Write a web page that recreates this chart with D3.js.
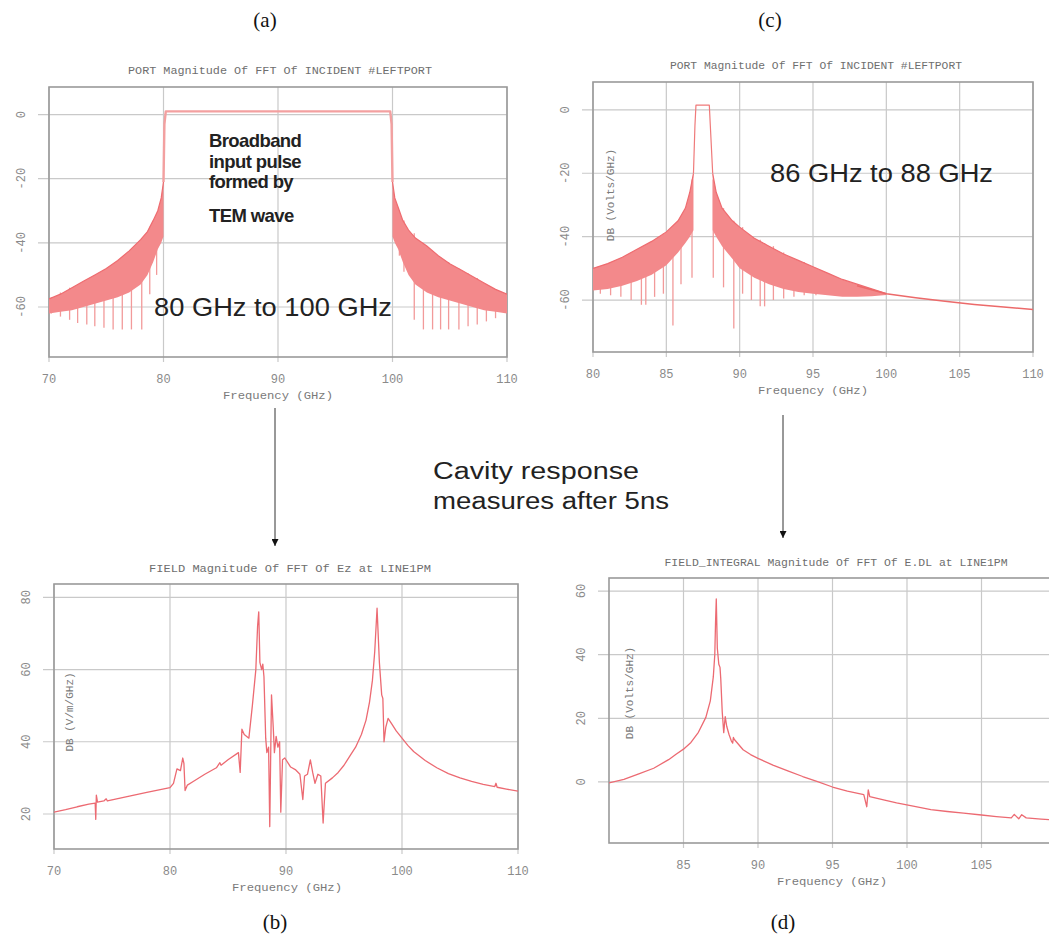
<!DOCTYPE html>
<html>
<head>
<meta charset="utf-8">
<script src="https://cdn.jsdelivr.net/npm/d3@7"></script>
<style>
body { margin: 0; background: #fff; }
</style>
</head>
<body>
<div id="chart"></div>
<script>
// ---- data ----
// panel (a): dense sidebands [GHz, top dB, bottom dB], passband edge, null spikes [GHz, top, depth]
var aBandLeft = [[70,-57.5,-62],[71,-56,-61.5],[72,-54,-61],[73,-52,-60],[74,-50,-59],[75,-48,-58],
    [76,-45.5,-57],[77,-42.5,-55.5],[78,-39,-53],[78.6,-36.5,-50],[79.1,-33,-46],[79.5,-30,-42],
    [79.8,-26,-40],[80,-21,-38]];
var aBandRight = [[100,-21,-38],[100.2,-26,-40],[100.5,-29,-42],[100.9,-33,-46],[101.4,-36,-50],
    [102,-38.5,-53],[103,-41,-55.5],[104,-44,-57],[105,-46.5,-58],[106,-48.5,-59],[107,-50.5,-60],
    [108,-52.5,-61],[109,-54.5,-61.5],[110,-56,-62]];
var aPass = [[80,-21],[80.08,-3],[80.2,1],[99.8,1],[99.92,-3],[100,-21]];
var aSpikes = [[70.2,-57,-62],[71,-55.5,-63],[71.8,-54,-64],[72.5,-53,-65],[73.3,-52,-65.5],
    [74,-50,-66],[74.8,-48.5,-66.5],[75.6,-47,-67],[76.4,-44.5,-67],[77.2,-42,-67],[78.1,-39,-67],
    [78.8,-35,-56],[79.4,-31,-50],
    [100.6,-30,-44],[101,-33,-49],[101.9,-37,-64],[102.7,-40,-67],[103.5,-42.5,-67],[104.2,-44.5,-67],
    [104.9,-46,-67],[105.8,-48,-67],[106.6,-49.5,-66],[107.4,-51,-65.5],[108.2,-53,-64.5],[109,-54.5,-63.5]];
var aXTicks = [70, 80, 90, 100, 110];
var aYTicks = [0, -20, -40, -60];

// panel (c)
var cBandLeft = [[80,-50,-57],[81,-48.5,-56.5],[82,-46.5,-55.5],[83,-44,-54],[84,-41.5,-52],
    [85,-38.5,-49],[85.8,-35,-45],[86.3,-31,-42],[86.6,-26,-40],[86.85,-20,-38]];
var cBandRight = [[88.16,-20,-38],[88.4,-26,-40],[88.8,-31,-43],[89.5,-35,-47],[90,-37,-50],
    [91,-40.5,-53],[92,-43,-55],[93,-45.5,-56.5],[94,-47.5,-57.5],[95,-49.5,-58],[96,-51.5,-58.5],
    [97,-53.5,-59],[98,-55,-59],[99,-56.5,-58.8],[100,-58,-58.4]];
var cPass = [[86.85,-20],[86.95,-5],[87.02,1.5],[87.93,1.5],[88,-5],[88.16,-20]];
var cTail = [[98,-55.5],[100,-58],[102,-59.3],[104,-60.4],[106,-61.4],[108,-62.2],[110,-63]];
var cSpikes = [[80.5,-50,-58],[81.2,-48,-58.5],[81.9,-47,-59],[82.6,-45,-60],[83.3,-44,-61.5],
    [83.6,-43,-61.5],[84.2,-41,-59],[84.8,-39,-58],[85.45,-38,-68],[86,-34,-55],[86.75,-22,-53],
    [88.2,-22,-53],[88.9,-31,-56],[89.6,-35,-69],[90.2,-37,-58],[90.8,-40,-60],[91.4,-41,-62],
    [91.7,-42,-62],[92.3,-43,-60],[93,-45,-59.5],[93.7,-47,-59],[94.4,-48,-58.5],[95.2,-50,-58.5]];
var cXTicks = [80, 85, 90, 95, 100, 105, 110];
var cYTicks = [0, -20, -40, -60];

// panel (b): cavity field spectrum [GHz, dB]
var bCurve = [[70,20.5],[71,21.2],[72,22],[73,22.7],[73.55,23],[73.6,18.5],[73.65,25.2],[73.75,23.3],
    [74.3,23.6],[74.5,24.2],[74.6,23.6],[76,24.6],[78,26],[80,27.3],[80.3,28.5],[80.6,32.5],[80.9,32],
    [81.1,35.5],[81.2,34],[81.3,26.5],[81.5,28],[82,29],[83,31],[84,32.8],[84.3,34.2],[84.4,33.5],
    [85,35],[85.9,37],[86.05,31.5],[86.2,43.5],[86.4,42],[86.8,41],[87.1,50],[87.4,60],[87.55,72],
    [87.65,76],[87.75,62],[87.9,60],[88,61.5],[88.1,58],[88.25,41],[88.35,37],[88.5,38.5],[88.6,16.5],
    [88.75,53],[88.9,44],[89,37],[89.15,41.5],[89.3,38.5],[89.45,40],[89.55,20.5],[89.7,35],
    [89.9,35.5],[90.4,33],[90.8,32.3],[91.2,31],[91.45,24],[91.6,30.5],[91.85,31],[92.1,35],
    [92.3,31.5],[92.5,28.5],[92.75,31],[93,30.5],[93.2,17.5],[93.4,28.5],[94,30],[94.5,31.5],
    [95,33.5],[95.5,36],[96,38.5],[96.5,42],[96.9,46],[97.2,51],[97.45,57],[97.65,65],[97.85,77],
    [98.05,62],[98.25,53],[98.35,52],[98.45,40],[98.6,44],[98.8,46.5],[99.1,45],[99.5,43],[100,41],
    [100.5,39],[101,37.3],[102,34.8],[103,32.8],[104,31.2],[105,30],[106,29],[107,28.2],[108,27.6],
    [108.1,28.5],[108.2,27.4],[109,26.9],[110,26.3]];
var bXTicks = [70, 80, 90, 100, 110];
var bYTicks = [20, 40, 60, 80];

// panel (d): field integral spectrum [GHz, dB]
var dCurve = [[80,-0.3],[81,0.8],[82,2.5],[83,4.3],[84,7],[84.5,8.7],[85,10.3],[85.5,12.4],
    [86,15.6],[86.5,20.3],[86.8,25.5],[87,33],[87.1,40],[87.15,50],[87.2,57.5],[87.27,42],[87.37,37],
    [87.45,36],[87.5,32.5],[87.6,22],[87.7,15.5],[87.8,20.5],[87.9,17.5],[88.05,15],[88.2,13],
    [88.3,12.2],[88.35,14],[88.4,13.4],[89,10.1],[89.5,8.6],[90,7.4],[91,5.3],[92,3.5],[93,1.7],
    [94,0.1],[95,-1.6],[96,-2.9],[97.1,-4],[97.3,-7.8],[97.4,-2.5],[97.5,-4.6],[98.5,-5.7],
    [99.3,-6.6],[100.5,-7.7],[101.6,-8.7],[102.7,-9.3],[103.8,-9.8],[105,-10.4],[106,-10.9],
    [107,-11.3],[107.2,-10.2],[107.5,-11.6],[107.7,-10.3],[108,-11.3],[109,-11.7],[110,-12]];
var dXTicks = [85, 90, 95, 100, 105];
var dGrid = [85, 90, 95, 100, 105, 110];
var dYTicks = [0, 20, 40, 60];

var W = 1049, H = 939;
var lineColor = "#ec6a72";
var mono = "'Liberation Mono', 'DejaVu Sans Mono', monospace";

var svg = d3.select("#chart").append("svg")
    .attr("width", W)
    .attr("height", H)
    .style("background", "#fff");

var defs = svg.append("defs");

defs.append("marker")
    .attr("id", "arrow")
    .attr("viewBox", "0 0 10 10")
    .attr("refX", 10).attr("refY", 5)
    .attr("markerWidth", 7).attr("markerHeight", 7)
    .attr("markerUnits", "userSpaceOnUse")
    .attr("orient", "auto")
    .append("path")
    .attr("d", "M0,0L10,5L0,10Z")
    .attr("fill", "#111");

// builds the frame, grid, ticks and labels of one panel; returns its scales and a clipped group
function drawPanel(cfg) {
    var x = d3.scaleLinear().domain(cfg.xDomain).range([cfg.left, cfg.right]);
    var y = d3.scaleLinear().domain(cfg.yDomain).range([cfg.bottom, cfg.top]);
    var g = svg.append("g");

    // grid + outer tick marks
    g.selectAll(".vgrid").data(cfg.xGrid || cfg.xTicks).enter().append("line")
        .attr("x1", function (d) { return x(d); }).attr("x2", function (d) { return x(d); })
        .attr("y1", cfg.top).attr("y2", cfg.bottom + 5)
        .attr("stroke", "#c9c9c9").attr("stroke-width", 1.2);
    g.selectAll(".hgrid").data(cfg.yTicks).enter().append("line")
        .attr("x1", cfg.left - 11).attr("x2", cfg.right)
        .attr("y1", function (d) { return y(d); }).attr("y2", function (d) { return y(d); })
        .attr("stroke", "#c9c9c9").attr("stroke-width", 1.2);

    g.append("rect")
        .attr("x", cfg.left).attr("y", cfg.top)
        .attr("width", cfg.right - cfg.left).attr("height", cfg.bottom - cfg.top)
        .attr("fill", "none").attr("stroke", "#9a9a9a").attr("stroke-width", 1.6);

    // tick labels
    g.selectAll(".xl").data(cfg.xTicks).enter().append("text")
        .attr("x", function (d) { return x(d); })
        .attr("y", cfg.bottom + 26)
        .attr("text-anchor", "middle")
        .style("font-family", mono).style("font-size", "12px").style("fill", "#8a8a8a")
        .text(function (d) { return d; });
    g.selectAll(".yl").data(cfg.yTicks).enter().append("text")
        .attr("transform", function (d) {
            return "translate(" + (cfg.left - 24) + "," + y(d) + ") rotate(-90)";
        })
        .attr("text-anchor", "middle")
        .style("font-family", mono).style("font-size", "12px").style("fill", "#8a8a8a")
        .text(function (d) { return d; });

    g.append("text")
        .attr("x", cfg.titleX).attr("y", cfg.titleY)
        .attr("text-anchor", "middle")
        .attr("textLength", cfg.titleLen).attr("lengthAdjust", "spacingAndGlyphs")
        .style("font-family", mono).style("font-size", "11px").style("fill", "#6e6e6e")
        .text(cfg.title);
    g.append("text")
        .attr("x", cfg.xLabelX).attr("y", cfg.bottom + 42)
        .attr("text-anchor", "middle")
        .attr("textLength", 110).attr("lengthAdjust", "spacingAndGlyphs")
        .style("font-family", mono).style("font-size", "11px").style("fill", "#7a7a7a")
        .text("Frequency  (GHz)");
    if (cfg.yLabel) {
        g.append("text")
            .attr("transform", "translate(" + cfg.yLabelX + "," + cfg.yLabelY + ") rotate(-90)")
            .attr("text-anchor", "middle")
            .style("font-family", mono).style("font-size", "11px").style("fill", "#7a7a7a")
            .text(cfg.yLabel);
    }

    var clipId = "clip" + cfg.id;
    defs.append("clipPath").attr("id", clipId).append("rect")
        .attr("x", cfg.left).attr("y", cfg.top)
        .attr("width", cfg.right - cfg.left).attr("height", cfg.bottom - cfg.top);
    var plot = g.append("g").attr("clip-path", "url(#" + clipId + ")");
    return { x: x, y: y, plot: plot };
}

function drawBand(p, band) {
    var area = d3.area()
        .x(function (d) { return p.x(d[0]); })
        .y0(function (d) { return p.y(d[2]); })
        .y1(function (d) { return p.y(d[1]); });
    p.plot.append("path").datum(band)
        .attr("d", area)
        .attr("fill", "#f3898b");
    p.plot.append("path").datum(band)
        .attr("d", d3.line().x(function (d) { return p.x(d[0]); }).y(function (d) { return p.y(d[1]); }))
        .attr("fill", "none").attr("stroke", "#ee6c70").attr("stroke-width", 1.2);
}

function drawSpikes(p, spikes) {
    p.plot.selectAll(null).data(spikes).enter().append("line")
        .attr("x1", function (d) { return p.x(d[0]); }).attr("x2", function (d) { return p.x(d[0]); })
        .attr("y1", function (d) { return p.y(d[1]); }).attr("y2", function (d) { return p.y(d[2]); })
        .attr("stroke", "#f29a9a").attr("stroke-width", 1.3);
}

function drawLine(p, data, color, width) {
    p.plot.append("path").datum(data)
        .attr("d", d3.line().x(function (d) { return p.x(d[0]); }).y(function (d) { return p.y(d[1]); }))
        .attr("fill", "none").attr("stroke", color).attr("stroke-width", width)
        .attr("stroke-linejoin", "round");
}

// ---- panel (a) ----
var pa = drawPanel({
    id: "a", xDomain: [70, 110], yDomain: [-75.6, 8.6],
    left: 49, right: 507, top: 87, bottom: 357,
    xTicks: aXTicks, yTicks: aYTicks,
    title: "PORT Magnitude Of FFT Of INCIDENT #LEFTPORT", titleX: 280, titleY: 74, titleLen: 304,
    xLabelX: 278
});
drawSpikes(pa, aSpikes);
drawBand(pa, aBandLeft);
drawBand(pa, aBandRight);
drawLine(pa, aPass, "#f3a0a0", 2.4);

// ---- panel (c) ----
var pc = drawPanel({
    id: "c", xDomain: [80, 110], yDomain: [-76.4, 8.8],
    left: 593, right: 1033, top: 82, bottom: 352,
    xTicks: cXTicks, yTicks: cYTicks,
    title: "PORT Magnitude Of FFT Of INCIDENT #LEFTPORT", titleX: 816, titleY: 69, titleLen: 292,
    xLabelX: 813, yLabel: "DB  (Volts/GHz)", yLabelX: 614, yLabelY: 195
});
drawSpikes(pc, cSpikes);
drawBand(pc, cBandLeft);
drawBand(pc, cBandRight);
drawLine(pc, cPass, "#ef7a7a", 1.2);
drawLine(pc, cTail, "#ec6a6a", 1.6);

// ---- panel (b) ----
var pb = drawPanel({
    id: "b", xDomain: [70, 110], yDomain: [10.3, 83.7],
    left: 54, right: 518, top: 584, bottom: 849,
    xTicks: bXTicks, yTicks: bYTicks,
    title: "FIELD Magnitude Of FFT Of Ez at LINE1PM", titleX: 290, titleY: 572, titleLen: 282,
    xLabelX: 287, yLabel: "DB  (V/m/GHz)", yLabelX: 73, yLabelY: 712
});
drawLine(pb, bCurve, lineColor, 1.3);

// ---- panel (d) ----
var pd = drawPanel({
    id: "d", xDomain: [80, 110], yDomain: [-19.2, 64.1],
    left: 609, right: 1056, top: 578, bottom: 843,
    xTicks: dXTicks, xGrid: dGrid, yTicks: dYTicks,
    title: "FIELD_INTEGRAL Magnitude Of FFT Of E.DL at LINE1PM", titleX: 836, titleY: 566, titleLen: 343,
    xLabelX: 832, yLabel: "DB  (Volts/GHz)", yLabelX: 633, yLabelY: 693
});
drawLine(pd, dCurve, lineColor, 1.3);

// ---- annotations ----
var sans = "'Liberation Sans', Arial, sans-serif";
var serif = "'Liberation Serif', 'Times New Roman', serif";

var pulseLines = ["Broadband", "input pulse", "formed by", "TEM wave"];
var pulseY = [147, 168, 188, 222];
svg.selectAll(".pulse").data(pulseLines).enter().append("text")
    .attr("x", 209).attr("y", function (d, i) { return pulseY[i]; })
    .style("font-family", sans).style("font-size", "18.5px").style("font-weight", "bold")
    .style("letter-spacing", "-0.6px").style("fill", "#222")
    .text(function (d) { return d; });

svg.append("text").attr("x", 154).attr("y", 316)
    .attr("textLength", 238).attr("lengthAdjust", "spacingAndGlyphs")
    .style("font-family", sans).style("font-size", "25px").style("fill", "#222")
    .text("80 GHz to 100 GHz");
svg.append("text").attr("x", 770).attr("y", 182)
    .attr("textLength", 223).attr("lengthAdjust", "spacingAndGlyphs")
    .style("font-family", sans).style("font-size", "25px").style("fill", "#222")
    .text("86 GHz to 88 GHz");

svg.append("text").attr("x", 433).attr("y", 479)
    .attr("textLength", 206).attr("lengthAdjust", "spacingAndGlyphs")
    .style("font-family", sans).style("font-size", "23px").style("fill", "#222")
    .text("Cavity response");
svg.append("text").attr("x", 433).attr("y", 509)
    .attr("textLength", 236).attr("lengthAdjust", "spacingAndGlyphs")
    .style("font-family", sans).style("font-size", "23px").style("fill", "#222")
    .text("measures after 5ns");

var arrows = [[275, 408, 546], [783, 415, 538]];
svg.selectAll(".arrow").data(arrows).enter().append("line")
    .attr("x1", function (d) { return d[0]; }).attr("x2", function (d) { return d[0]; })
    .attr("y1", function (d) { return d[1]; }).attr("y2", function (d) { return d[2]; })
    .attr("stroke", "#333").attr("stroke-width", 1)
    .attr("marker-end", "url(#arrow)");

var panelLabels = [["(a)", 265, 27], ["(c)", 770, 27], ["(b)", 275, 929], ["(d)", 783, 929]];
svg.selectAll(".plabel").data(panelLabels).enter().append("text")
    .attr("x", function (d) { return d[1]; }).attr("y", function (d) { return d[2]; })
    .attr("text-anchor", "middle")
    .style("font-family", serif).style("font-size", "21px").style("fill", "#111")
    .text(function (d) { return d[0]; });
</script>
</body>
</html>
